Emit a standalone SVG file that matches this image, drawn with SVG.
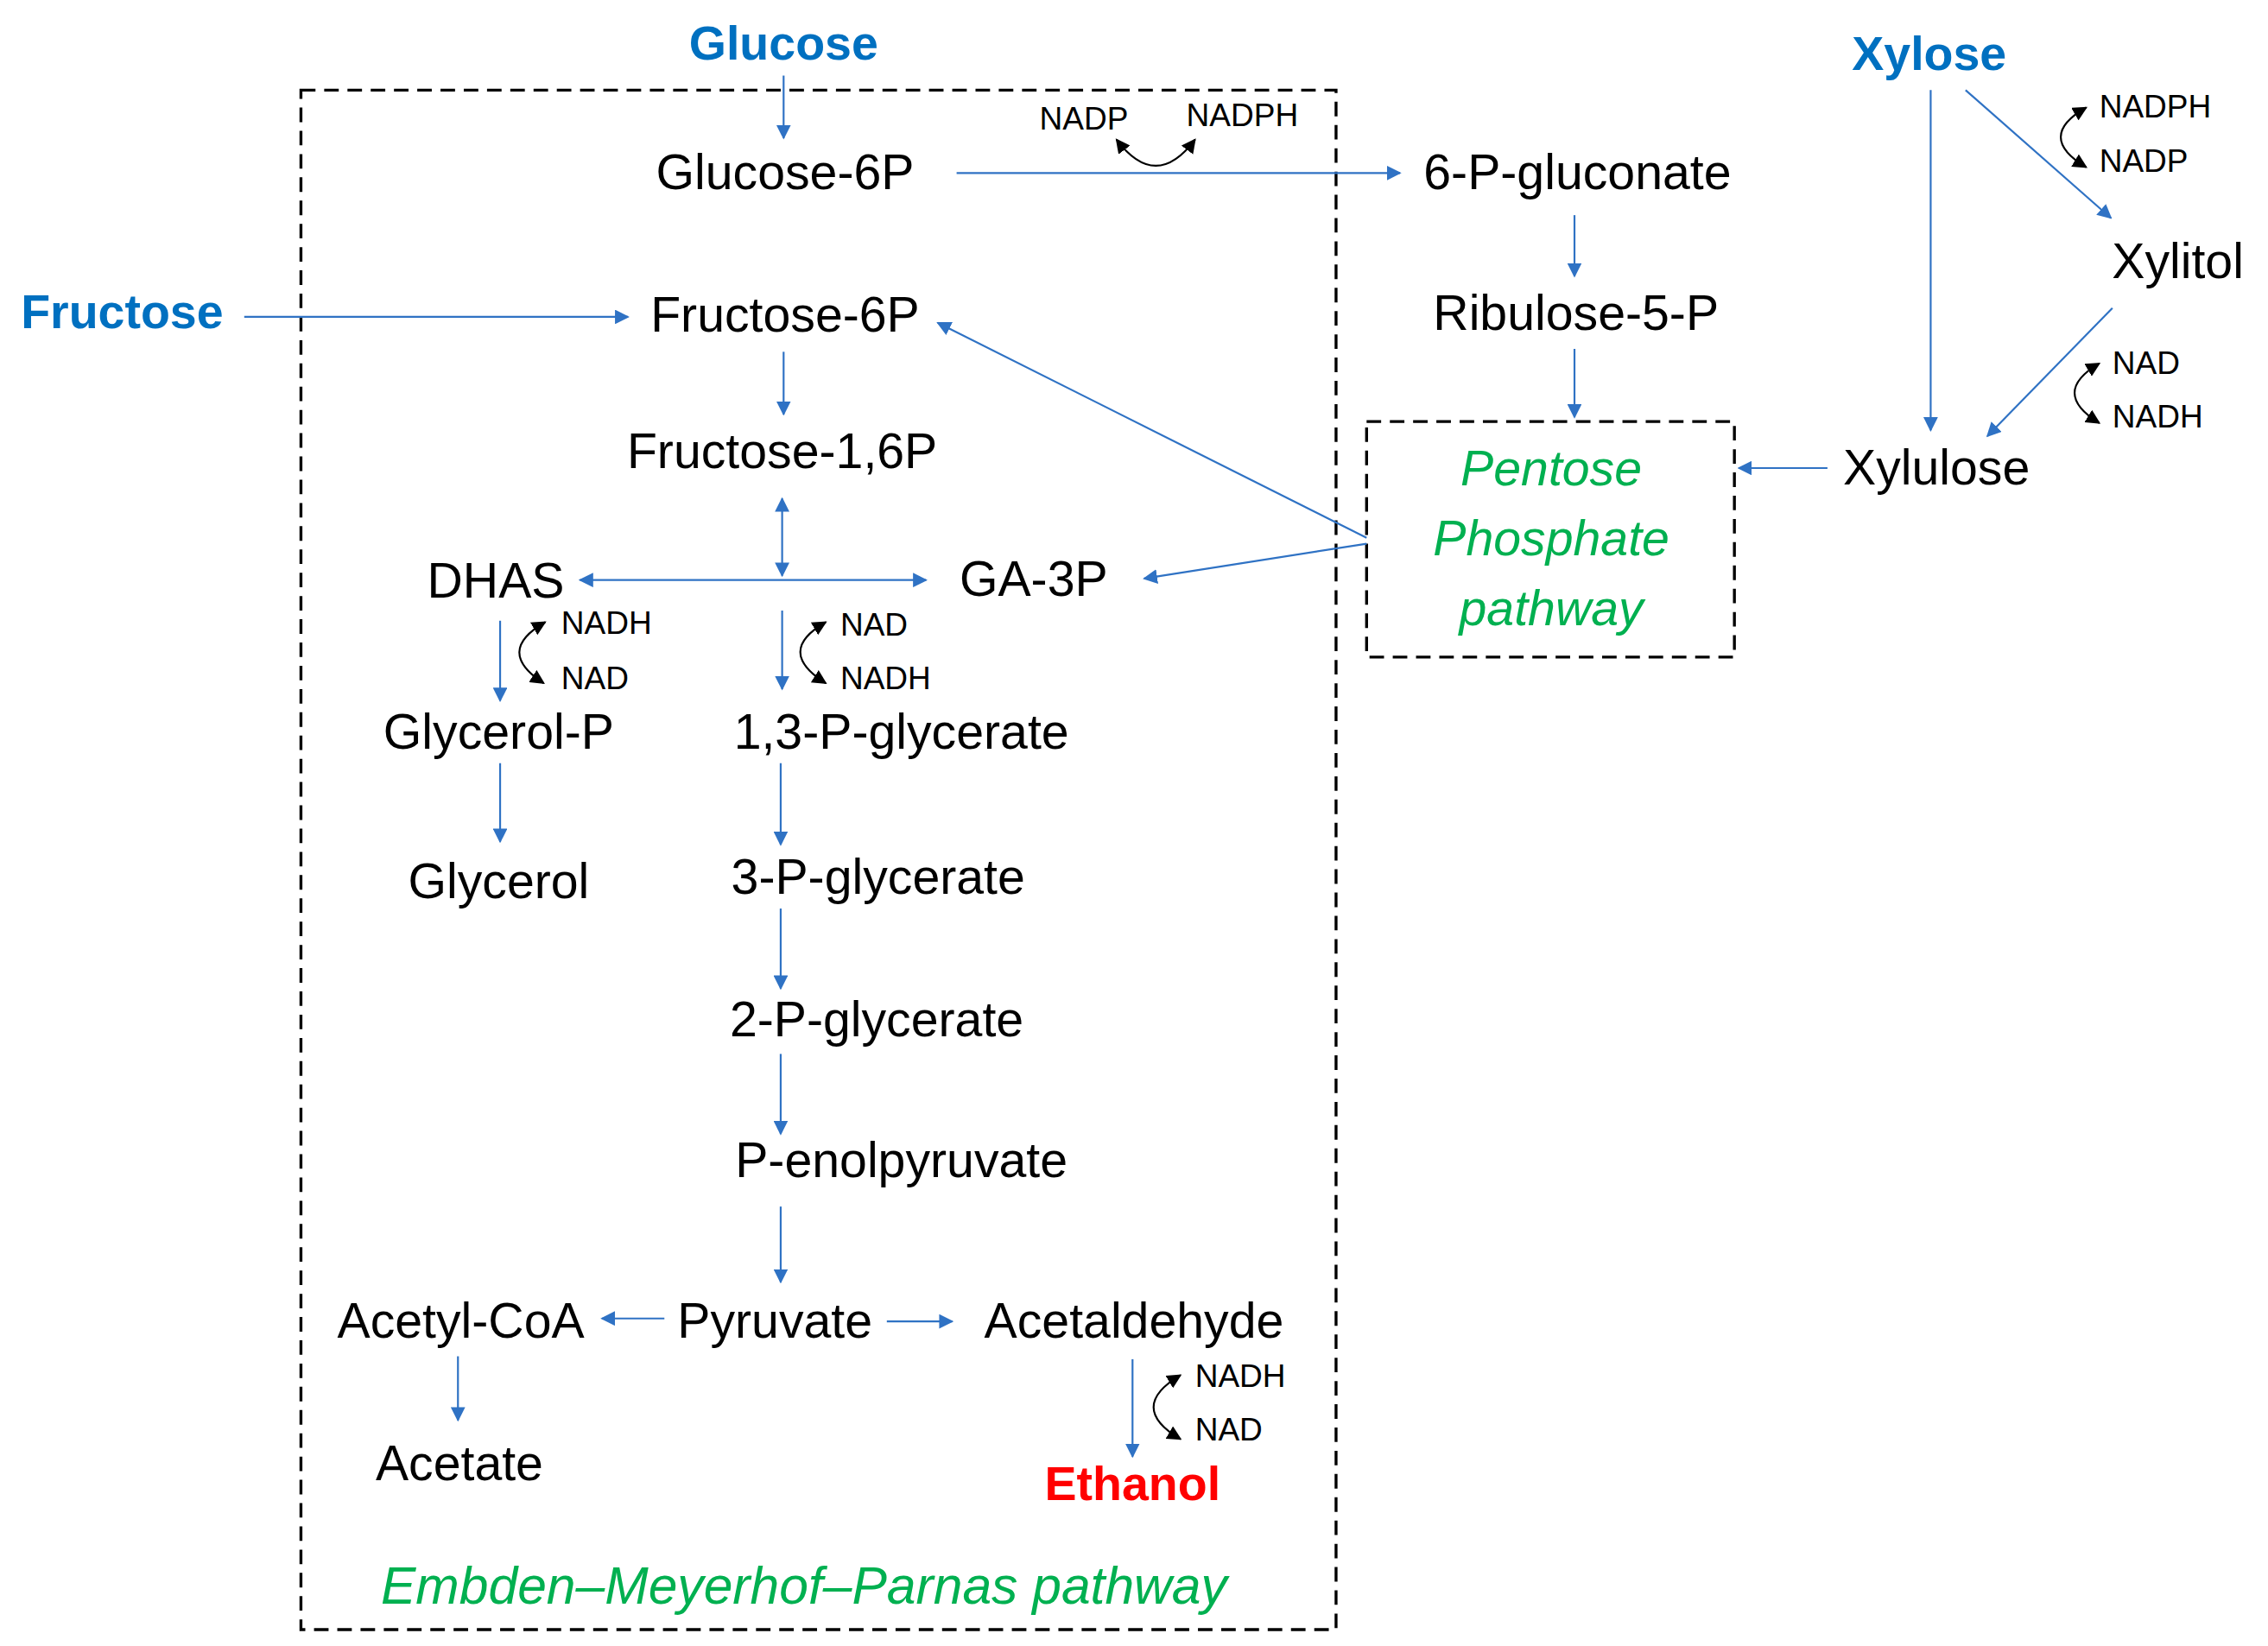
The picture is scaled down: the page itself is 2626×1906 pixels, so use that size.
<svg xmlns="http://www.w3.org/2000/svg" width="2626" height="1906" viewBox="0 0 2626 1906">
<style>
.t{font-family:"Liberation Sans",Arial,sans-serif;font-size:34px;fill:#000;text-anchor:middle}
.s{font-family:"Liberation Sans",Arial,sans-serif;font-size:22px;fill:#000}
.b{font-family:"Liberation Sans",Arial,sans-serif;font-size:33px;font-weight:bold;fill:#0070C0;text-anchor:middle}
.g{font-family:"Liberation Sans",Arial,sans-serif;font-size:34px;font-style:italic;fill:#00B050;text-anchor:middle}
.a{stroke:#2F72C4;stroke-width:1.3;fill:none;marker-end:url(#ab)}
.d{stroke:#2F72C4;stroke-width:1.3;fill:none;marker-end:url(#ab);marker-start:url(#as)}
.c{stroke:#000;stroke-width:1.3;fill:none;marker-end:url(#ak);marker-start:url(#aks)}
.box{fill:none;stroke:#000;stroke-width:2;stroke-dasharray:10 6}
</style>
<defs>
<marker id="ab" viewBox="0 0 10 10" refX="9" refY="5" markerWidth="10" markerHeight="10" markerUnits="userSpaceOnUse" orient="auto"><path d="M0,0L10,5L0,10z" fill="#2F72C4"/></marker>
<marker id="as" viewBox="0 0 10 10" refX="1" refY="5" markerWidth="10" markerHeight="10" markerUnits="userSpaceOnUse" orient="auto"><path d="M10,0L0,5L10,10z" fill="#2F72C4"/></marker>
<marker id="ak" viewBox="0 0 10 10" refX="9" refY="5" markerWidth="10" markerHeight="10" markerUnits="userSpaceOnUse" orient="auto"><path d="M0,0L10,5L0,10z" fill="#000"/></marker>
<marker id="aks" viewBox="0 0 10 10" refX="1" refY="5" markerWidth="10" markerHeight="10" markerUnits="userSpaceOnUse" orient="auto"><path d="M10,0L0,5L10,10z" fill="#000"/></marker>
</defs>
<rect width="2626" height="1906" fill="#fff"/>
<g transform="scale(1.6833)">
<g id="emp-box"><rect class="box" x="207" y="62" width="712" height="1059"/><text class="g" x="553" y="1103" style="font-size:36px">Embden–Meyerhof–Parnas pathway</text></g>
<g id="ppp"><rect class="box" x="940" y="290" width="253" height="162"/><text class="g" x="1067" y="334">Pentose</text><text class="g" x="1067" y="382">Phosphate</text><text class="g" x="1067" y="430">pathway</text></g>
<g id="glucose"><text class="b" x="539" y="41">Glucose</text></g>
<g id="fructose"><text class="b" x="84" y="226">Fructose</text></g>
<g id="xylose"><text class="b" x="1327" y="48">Xylose</text></g>
<g id="g6p"><text class="t" x="540" y="130">Glucose-6P</text></g>
<g id="pglu"><text class="t" x="1085" y="130">6-P-gluconate</text></g>
<g id="ru5p"><text class="t" x="1084" y="227">Ribulose-5-P</text></g>
<g id="xylitol"><text class="t" x="1498" y="191">Xylitol</text></g>
<g id="xylulose"><text class="t" x="1332" y="333">Xylulose</text></g>
<g id="f6p"><text class="t" x="540" y="228">Fructose-6P</text></g>
<g id="f16p"><text class="t" x="538" y="322">Fructose-1,6P</text></g>
<g id="dhas"><text class="t" x="341" y="411">DHAS</text></g>
<g id="ga3p"><text class="t" x="711" y="410">GA-3P</text></g>
<g id="glyp"><text class="t" x="343" y="515">Glycerol-P</text></g>
<g id="glycerol"><text class="t" x="343" y="618">Glycerol</text></g>
<g id="bpg"><text class="t" x="620" y="515">1,3-P-glycerate</text></g>
<g id="pg3"><text class="t" x="604" y="615">3-P-glycerate</text></g>
<g id="pg2"><text class="t" x="603" y="713">2-P-glycerate</text></g>
<g id="pep"><text class="t" x="620" y="810">P-enolpyruvate</text></g>
<g id="pyr"><text class="t" x="533" y="920">Pyruvate</text></g>
<g id="acoa"><text class="t" x="317" y="920">Acetyl-CoA</text></g>
<g id="acald"><text class="t" x="780" y="920">Acetaldehyde</text></g>
<g id="acetate"><text class="t" x="316" y="1018">Acetate</text></g>
<g id="ethanol"><text class="b" x="779" y="1032" style="fill:#FF0000">Ethanol</text></g>
<g id="cofactors">
<text class="s" x="715" y="89">NADP</text><text class="s" x="816" y="87">NADPH</text>
<text class="s" x="1444" y="81">NADPH</text><text class="s" x="1444" y="118">NADP</text>
<text class="s" x="1453" y="257">NAD</text><text class="s" x="1453" y="294">NADH</text>
<text class="s" x="386" y="436">NADH</text><text class="s" x="386" y="474">NAD</text>
<text class="s" x="578" y="437">NAD</text><text class="s" x="578" y="474">NADH</text>
<text class="s" x="822" y="954">NADH</text><text class="s" x="822" y="991">NAD</text>
</g>
<g id="connectors">
<line class="a" x1="539" y1="52" x2="539" y2="95"/>
<line class="a" x1="658" y1="119" x2="963" y2="119"/>
<path class="c" d="M768,96 Q795,132 822,96"/>
<line class="a" x1="1083" y1="148" x2="1083" y2="190"/>
<line class="a" x1="1083" y1="240" x2="1083" y2="287"/>
<line class="a" x1="1328" y1="62" x2="1328" y2="296"/>
<line class="a" x1="1352" y1="62" x2="1452" y2="150"/>
<path class="c" d="M1435,74 Q1400,94 1435,115"/>
<line class="a" x1="1453" y1="212" x2="1367" y2="300"/>
<path class="c" d="M1444,250 Q1410,270 1444,291"/>
<line class="a" x1="1257" y1="322" x2="1196" y2="322"/>
<line class="a" x1="940" y1="370" x2="645" y2="222"/>
<line class="a" x1="940" y1="374" x2="787" y2="398"/>
<line class="a" x1="168" y1="218" x2="432" y2="218"/>
<line class="a" x1="539" y1="242" x2="539" y2="285"/>
<line class="d" x1="538" y1="343" x2="538" y2="396"/>
<line class="d" x1="399" y1="399" x2="637" y2="399"/>
<line class="a" x1="344" y1="427" x2="344" y2="482"/>
<path class="c" d="M375,428 Q340,448 374,470"/>
<line class="a" x1="538" y1="420" x2="538" y2="474"/>
<path class="c" d="M568,428 Q533,448 568,470"/>
<line class="a" x1="344" y1="525" x2="344" y2="579"/>
<line class="a" x1="537" y1="525" x2="537" y2="581"/>
<line class="a" x1="537" y1="625" x2="537" y2="680"/>
<line class="a" x1="537" y1="725" x2="537" y2="780"/>
<line class="a" x1="537" y1="830" x2="537" y2="882"/>
<line class="a" x1="457" y1="907" x2="414" y2="907"/>
<line class="a" x1="610" y1="909" x2="655" y2="909"/>
<line class="a" x1="315" y1="933" x2="315" y2="977"/>
<line class="a" x1="779" y1="935" x2="779" y2="1002"/>
<path class="c" d="M812,946 Q775,968 812,990"/>
</g>
</g>
</svg>
